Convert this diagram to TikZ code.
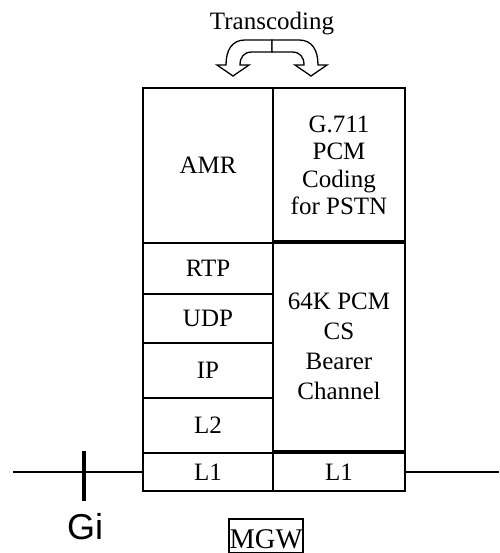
\documentclass[tikz,border=0pt]{standalone}
\usepackage{fontspec}
\setmainfont{Liberation Serif}
\newfontfamily\gifont{Liberation Sans}
\usetikzlibrary{positioning}
\tikzset{
  layer/.style={draw, line width=1.3pt, inner sep=0pt, align=center, font=\fontsize{25}{27.5}\selectfont},
  link/.style={line width=1.3pt},
  turn/.style={draw, line width=1.3pt, fill=white, line join=miter}
}

\begin{document}
\begin{tikzpicture}[x=1pt,y=-1pt,
		bar/.style={line width=4pt},
		wide/.style={minimum width=130pt},
		wider/.style={minimum width=132pt}]
		\useasboundingbox (0,0) rectangle (499,553);
		
		% 左列协议栈
		\node[layer,wide,minimum height=155pt] (amr) at (208,165.5) {AMR};
		\node[layer,wide,minimum height=51pt] (rtp) at (208,268.5) {RTP};
		\node[layer,wide,minimum height=49pt] (udp) at (208,318.5) {UDP};
		\node[layer,wide,minimum height=55pt] (ip) at (208,370.5) {IP};
		\node[layer,wide,minimum height=55pt] (l2) at (208,425.5) {L2};
		\node[layer,wide,minimum height=38pt] (l1a) at (208,472) {L1};
		
		% 右列
		\node[layer,wider,minimum height=155pt] (g711) at (339,165.5) {G.711\\PCM\\ Coding\\for PSTN};
		\node[layer,wider,minimum height=210pt,font=\fontsize{25}{30}\selectfont] (pcm) at (339,346) {64K PCM\\CS\\Bearer\\Channel};
		\node[layer,wider,minimum height=38pt] (l1b) at (339,472) {L1};
		
		% 转码箭头
		\node[font=\fontsize{25}{28}\selectfont] (trans) at (272,24) {Transcoding};
		\draw[turn] (272,40) -- (245,40) .. controls (232,40) and (226,50) .. (226,65)
			-- (217,65) -- (233,76) -- (249,65) -- (240,65)
			.. controls (240,57) and (244,52) .. (252,52) -- (272,52) -- cycle;
		\draw[turn] (272,40) -- (299,40) .. controls (312,40) and (318,50) .. (318,65)
			-- (327,65) -- (311,76) -- (295,65) -- (304,65)
			.. controls (304,57) and (300,52) .. (292,52) -- (272,52) -- cycle;
		
		% 接口
		\coordinate (gileft) at (13,472);
		\coordinate (pstn) at (499,472);
		\draw[link] (gileft) -- (l1a.west);
		\draw[link] (l1b.east) -- (pstn);
		\coordinate (gitop) at (84,451);
		\coordinate (gibot) at (84,501);
		\draw[bar] (gitop) -- (gibot);
		\node[font=\gifont\fontsize{36}{40}\selectfont] (gi) at (85,527) {Gi};
		
		\node[draw,line width=1.2pt,inner sep=0pt,minimum width=74pt,minimum height=34pt,
			text height=24pt,text depth=0pt,
			font=\fontsize{28.5}{30}\selectfont] (mgw) at (266,536) {MGW};
	\end{tikzpicture}
\end{document}
